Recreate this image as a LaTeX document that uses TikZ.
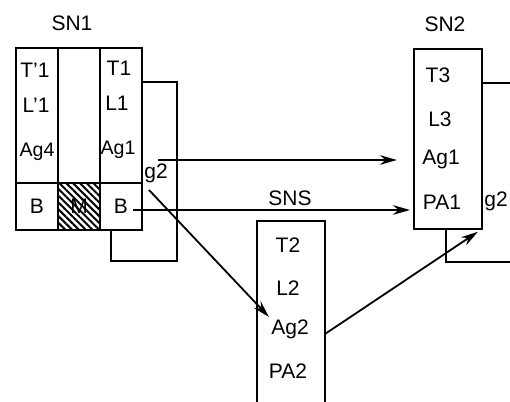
\documentclass[tikz,border=0pt]{standalone}
\usepackage{fontspec}
\setmainfont{Liberation Sans}
\usetikzlibrary{arrows.meta,positioning,patterns.meta}
\tikzset{
  box/.style   = {draw, line width=0.9pt, fill=white, inner sep=0pt, outer sep=0pt,
                  font=\fontsize{10.5}{12}\selectfont},
  col/.style   = {box, minimum width=21pt, minimum height=67.5pt},
  foot/.style  = {box, minimum width=21pt, minimum height=23.5pt},
  hatch/.style = {foot, pattern={Lines[angle=-45,distance=2.4pt,line width=1pt]}},
  txt/.style   = {inner sep=1pt, anchor=base, font=\fontsize{10.5}{12}\selectfont},
  small/.style = {txt, font=\fontsize{9.8}{11}\selectfont},
  vec/.style   = {-{Stealth[length=8.5pt,width=4.8pt]}, line width=0.9pt},
}
\begin{document}
\begin{tikzpicture}[x=0.5pt,y=-0.5pt]
  \clip (0,0) rectangle (510,402);
  \node[txt] (sn1lbl) at (72,30) {SN1};
  \node[txt] (sn2lbl) at (445,31) {SN2};
  \node[txt] (snslbl) at (290,205) {SNS};
  \node[box,anchor=north west,minimum width=33pt,minimum height=89.5pt] (sn1back) at (111,82) {};
  \node[txt,anchor=base west] (sn1g) at (142,178) {g2};
  \node[box,anchor=north west,minimum width=42pt,minimum height=89.5pt] (sn2back) at (446,83) {};
  \node[txt,anchor=base west] (sn2g) at (482,206) {g2};
  \node[col,anchor=north west] (c1) at (16,48) {};
  \node[col,right=0pt of c1] (c2) {};
  \node[col,right=0pt of c2] (c3) {};
  \node[foot,below=0pt of c1] (b1) {B};
  \node[hatch,right=0pt of b1] (m) {M};
  \node[foot,right=0pt of m] (b2) {B};
  \node[txt] (t1p) at (35,77) {T'1};
  \node[txt] (l1p) at (36,112) {L'1};
  \node[small] (ag4) at (37,156) {Ag4};
  \node[txt] (t1) at (119,75) {T1};
  \node[txt] (l1) at (117,110) {L1};
  \node[small] (ag1) at (118,154) {Ag1};
  \node[box,anchor=north west,minimum width=34pt,minimum height=90pt] (sn2box) at (414,49) {};
  \node[txt] (t3) at (438,82) {T3};
  \node[txt] (l3) at (440,126) {L3};
  \node[txt] (sn2ag1) at (441,164) {Ag1};
  \node[txt] (pa1) at (442,209) {PA1};
  \node[box,anchor=north west,minimum width=34pt,minimum height=100pt] (snsbox) at (257,221) {};
  \node[txt] (t2) at (288,252) {T2};
  \node[txt] (l2) at (288,295) {L2};
  \node[txt] (snsag2) at (290,334) {Ag2};
  \node[txt] (pa2) at (288,378) {PA2};
  \coordinate (ag1out) at (158,160);
  \coordinate (bout) at (133,210);
  \coordinate (g2out) at (149,190);
  \draw[vec,shorten >=8.5pt] (ag1out) -- (ag1out -| sn2box.west);
  \draw[vec,shorten >=2pt] (bout) -- (bout -| sn2box.west);
  \draw[vec] (g2out) -- (snsag2.north west);
  \draw[vec,shorten >=2.5pt] (snsbox.east |- snsag2.base) -- (sn2box.south east);
\end{tikzpicture}
\end{document}
